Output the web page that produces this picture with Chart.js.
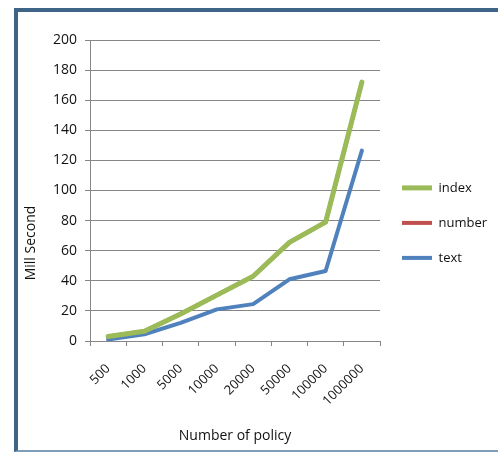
<!DOCTYPE html>
<html lang="en">
<head>
  <meta charset="UTF-8">
  <title>Mill Second by Number of policy</title>
  <style>
    html, body { margin: 0; padding: 0; background: #fff; overflow: hidden; }
    #quadro {
      position: absolute;
      left: 14px;
      top: 8px;
      width: 500px;
      height: 438px;
      border-left: 4px solid #3e6487;
      border-top: 4px solid #3e6487;
      border-bottom: 2px solid #7f9db9;
      background: #fff;
    }
    #grafico {
      position: absolute;
      left: 0;
      top: 0;
    }
  </style>
</head>
<body>
  <div id="quadro">
    <canvas id="grafico" width="470" height="437"></canvas>
  </div>

  <script src="https://cdn.jsdelivr.net/npm/chart.js"></script>
  <script>
    // dados
    const categorias = ['500', '1000', '5000', '10000', '20000', '50000', '100000', '1000000'];
    const serieIndex = [3, 6.5, 18, 30.5, 43, 65.5, 79, 172];
    const serieNumber = [3, 6.5, 18, 30.5, 43, 65.5, 79, 172];
    const serieText = [1, 4.5, 12, 21, 24.5, 41, 46.5, 126.5];
    const ticksY = [0, 20, 40, 60, 80, 100, 120, 140, 160, 180, 200];

    const fonte = "'Open Sans', 'DejaVu Sans', sans-serif";

    // titulo do eixo Y, fica mais baixo que o centro do eixo
    const tituloY = {
      id: 'tituloY',
      afterDraw(chart) {
        const ctx = chart.ctx;
        ctx.save();
        ctx.translate(13, 231);
        ctx.rotate(-Math.PI / 2);
        ctx.font = '14px ' + fonte;
        ctx.fillStyle = '#111';
        ctx.textAlign = 'center';
        ctx.textBaseline = 'middle';
        ctx.fillText('Mill Second', 0, 0);
        ctx.restore();
      }
    };

    const ctx = document.getElementById('grafico').getContext('2d');
    new Chart(ctx, {
      type: 'line',
      data: {
        labels: categorias,
        datasets: [
          {
            label: 'index',
            data: serieIndex,
            borderColor: '#9bbb59',
            backgroundColor: '#9bbb59',
            borderWidth: 5
          },
          {
            label: 'number',
            data: serieNumber,
            borderColor: '#c0504d',
            backgroundColor: '#c0504d',
            borderWidth: 4
          },
          {
            label: 'text',
            data: serieText,
            borderColor: '#4f81bd',
            backgroundColor: '#4f81bd',
            borderWidth: 4
          }
        ]
      },
      options: {
        responsive: false,
        animation: false,
        layout: { padding: { top: 28, left: 0, right: 0, bottom: 0 } },
        elements: {
          point: { radius: 0, hoverRadius: 0, pointStyle: 'line' },
          line: { tension: 0, borderJoinStyle: 'round', borderCapStyle: 'round' }
        },
        plugins: {
          legend: {
            position: 'right',
            align: 'start',
            maxWidth: 108,
            // titulo vazio so pra empurrar a legenda pra baixo
            title: { display: true, text: '', padding: { top: 105, bottom: 0 } },
            labels: {
              usePointStyle: true,
              pointStyleWidth: 30,
              boxHeight: 4,
              padding: 22,
              color: '#111',
              font: { family: fonte, size: 13 }
            }
          },
          tooltip: { enabled: false }
        },
        scales: {
          x: {
            offset: true,
            afterFit(scale) { scale.height = 108; },
            border: { display: false },
            grid: {
              offset: true,
              drawOnChartArea: false,
              drawTicks: true,
              tickLength: 5,
              color: '#868686'
            },
            ticks: {
              minRotation: 45,
              maxRotation: 45,
              autoSkip: false,
              padding: 15,
              color: '#111',
              font: { family: fonte, size: 13 }
            },
            title: {
              display: true,
              text: 'Number of policy',
              color: '#111',
              padding: { top: 4, bottom: 5 },
              font: { family: fonte, size: 14 }
            }
          },
          y: {
            min: 0,
            max: 200,
            afterFit(scale) { scale.width = 72; },
            afterBuildTicks(scale) {
              scale.ticks = ticksY.map(v => ({ value: v }));
            },
            border: { display: true, color: '#868686', width: 1 },
            grid: {
              color: '#868686',
              lineWidth: 1,
              drawTicks: true,
              tickLength: 5
            },
            ticks: {
              padding: 8,
              color: '#111',
              font: { family: fonte, size: 14 }
            }
          }
        }
      },
      plugins: [tituloY]
    });
  </script>
</body>
</html>
